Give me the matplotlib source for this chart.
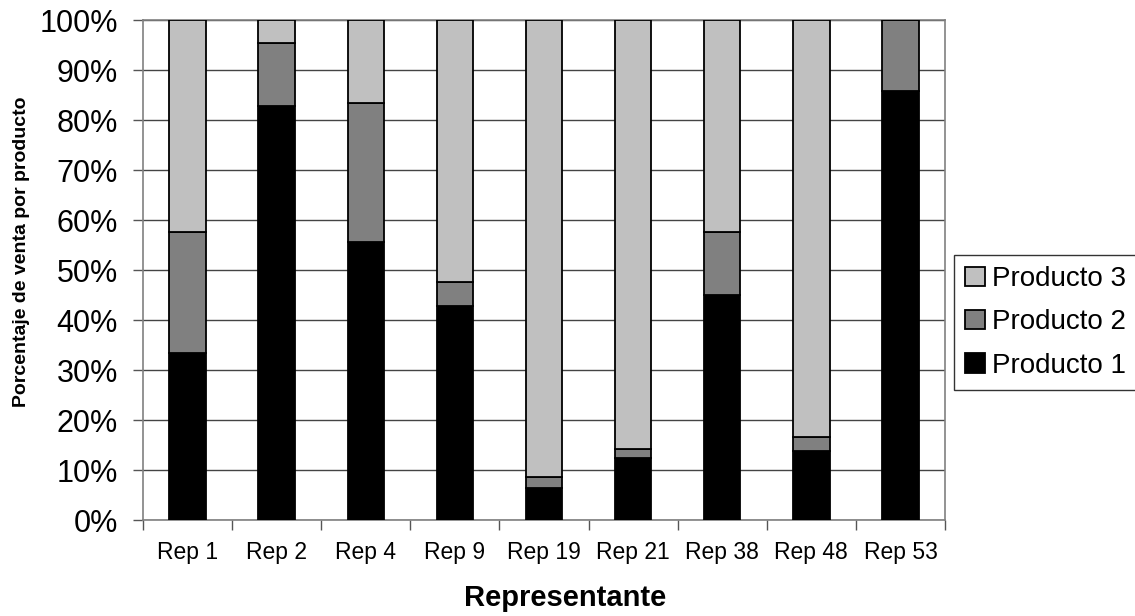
import matplotlib
matplotlib.use("Agg")
import matplotlib.pyplot as plt
import numpy as np
from matplotlib.ticker import FixedLocator, FuncFormatter

plt.rcParams['font.family'] = ['Liberation Sans', 'DejaVu Sans']

categories = ["Rep 1", "Rep 2", "Rep 4", "Rep 9", "Rep 19", "Rep 21", "Rep 38", "Rep 48", "Rep 53"]
producto1 = [33.5, 82.8, 55.7, 42.9, 6.5, 12.5, 45.1, 13.9, 85.9]
producto2 = [24.2, 12.6, 27.8, 4.7, 2.2, 1.7, 12.6, 2.7, 14.1]
producto3 = [42.3, 4.6, 16.5, 52.4, 91.3, 85.8, 42.3, 83.4, 0.0]
series_names = ["Producto 1", "Producto 2", "Producto 3"]
series_colors = ["#000000", "#808080", "#C0C0C0"]

fig = plt.figure(figsize=(11.35, 6.16), dpi=100)
ax = fig.add_axes([143/1135, 96/616, (945-143)/1135, 500/616])

x = np.arange(len(categories))
width = 0.41
bottom = np.zeros(len(categories))
handles = []
for vals, name, col in zip([producto1, producto2, producto3], series_names, series_colors):
    v = np.array(vals)
    b = ax.bar(x, v, width, bottom=bottom, color=col, edgecolor="black", linewidth=1.3,
               label=name, zorder=3)
    handles.append(b)
    bottom = bottom + v

ax.set_xlim(-0.5, len(categories) - 0.5)
ax.set_ylim(0, 100)
ax.yaxis.set_major_locator(FixedLocator(np.arange(0, 101, 10)))
ax.yaxis.set_major_formatter(FuncFormatter(lambda v, p: f"{int(v)}%"))
ax.grid(axis="y", color="#444444", linewidth=1.0, zorder=0)
ax.set_axisbelow(True)

ax.set_xticks(x)
ax.set_xticklabels(categories, fontsize=16.5)
ax.set_xticks(np.arange(-0.5, len(categories), 1.0), minor=True)
ax.tick_params(axis="x", which="major", length=0, pad=15)
ax.tick_params(axis="x", which="minor", length=7, width=1, color="#555555", direction="out")
ax.tick_params(axis="y", which="major", length=7, width=1, color="#555555", direction="out",
               labelsize=22, pad=11)

for s in ax.spines.values():
    s.set_color("#808080")
    s.set_linewidth(1.2)

fig.text(565/1135, 1 - 598/616, "Representante", ha="center", va="center",
         fontsize=21, fontweight="bold")
fig.text(22/1135, 1 - 252/616, "Porcentaje de venta por producto", ha="center", va="center",
         rotation=90, fontsize=14, fontweight="bold")

leg = fig.legend(handles[::-1], series_names[::-1], loc="upper left",
                 bbox_to_anchor=(954/1135, 1 - 255/616), fontsize=20,
                 frameon=True, fancybox=False, edgecolor="black",
                 handlelength=0.7, handleheight=0.7, handletextpad=0.25,
                 labelspacing=0.62, borderpad=0.4, borderaxespad=0)
leg.get_frame().set_linewidth(1.0)

fig.savefig("out.png", dpi=100)
